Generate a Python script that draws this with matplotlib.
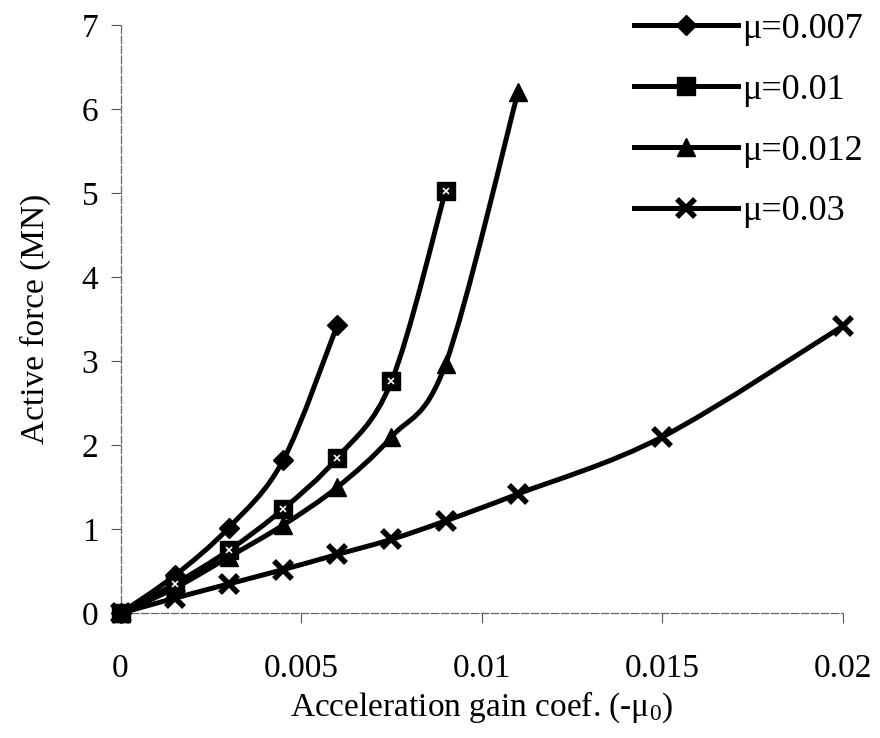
import numpy as np
import matplotlib
matplotlib.use('Agg')
import matplotlib.pyplot as plt
from matplotlib.path import Path
from matplotlib.patches import PathPatch
from matplotlib.lines import Line2D

plt.rcParams['font.family'] = ['Liberation Serif', 'DejaVu Serif']
plt.rcParams['mathtext.fontset'] = 'custom'
plt.rcParams['mathtext.rm'] = 'Liberation Serif'
plt.rcParams['mathtext.it'] = 'Liberation Serif:italic'

# values
gain_007 = [0, 0.0015, 0.003, 0.0045, 0.006]
force_007 = [0, 0.45, 1.02, 1.82, 3.43]

gain_01 = [0, 0.0015, 0.003, 0.0045, 0.006, 0.0075, 0.009]
force_01 = [0, 0.35, 0.75, 1.24, 1.85, 2.76, 5.03]

gain_012 = [0, 0.0015, 0.003, 0.0045, 0.006, 0.0075, 0.009, 0.011]
force_012 = [0, 0.3, 0.67, 1.05, 1.5, 2.1, 2.97, 6.2]

gain_03 = [0, 0.0015, 0.003, 0.0045, 0.006, 0.0075, 0.009, 0.011, 0.015, 0.02]
force_03 = [0, 0.18, 0.35, 0.52, 0.7, 0.88, 1.1, 1.42, 2.1, 3.42]

labels = ['μ=0.007', 'μ=0.01', 'μ=0.012', 'μ=0.03']
markers = ['D', 's', '^', 'x']
xticks = [0, 0.005, 0.01, 0.015, 0.02]
xticklabels = ['0', '0.005', '0.01', '0.015', '0.02']


def smooth_path(xs, ys):
    # catmull-rom style bezier through the points, like a spreadsheet smoothed line
    pts = np.column_stack([xs, ys]).astype(float)
    n = len(pts)
    verts = [pts[0]]
    codes = [Path.MOVETO]
    for i in range(n - 1):
        p0 = pts[i - 1] if i > 0 else pts[i]
        p1 = pts[i]
        p2 = pts[i + 1]
        p3 = pts[i + 2] if i + 2 < n else pts[i + 1]
        c1 = p1 + (p2 - p0) / 6.0
        c2 = p2 - (p3 - p1) / 6.0
        verts += [c1, c2, p2]
        codes += [Path.CURVE4] * 3
    return Path(verts, codes)


fig = plt.figure(figsize=(8.8, 7.38), dpi=100)
ax = fig.add_axes([0.137, 0.169, 0.821, 0.797])

series = [(gain_007, force_007), (gain_01, force_01), (gain_012, force_012), (gain_03, force_03)]
lw = 3.6
handles = []
for (xs, ys), m, lab in zip(series, markers, labels):
    patch = PathPatch(smooth_path(xs, ys), facecolor='none', edgecolor='black',
                      lw=lw, capstyle='round', joinstyle='round', clip_on=False, zorder=3)
    ax.add_patch(patch)
    if m == 'x':
        kw = dict(ms=13, mew=4)
    elif m == 'D':
        kw = dict(ms=10)
    else:
        kw = dict(ms=13)
    ax.plot(xs, ys, ls='none', marker=m, color='black', clip_on=False, zorder=4, **kw)
    if m == 's':
        ax.plot(xs[1:], ys[1:], ls='none', marker='x', ms=4, mew=1.2, color='white', zorder=5)
    handles.append(Line2D([], [], color='black', lw=lw, marker=m, label=lab, **kw))

ax.set_xlim(0, 0.02)
ax.set_ylim(0, 7)
ax.set_xticks(xticks)
ax.set_xticklabels(xticklabels)
ax.set_yticks(range(0, 8))

for s in ['top', 'right']:
    ax.spines[s].set_visible(False)
for s in ['left', 'bottom']:
    ax.spines[s].set_color('#666666')
    ax.spines[s].set_linewidth(0.9)
    ax.spines[s].set_linestyle((0, (6, 2)))

ax.tick_params(axis='x', direction='out', length=7, width=0.8, color='#555555',
               labelsize=24, pad=22)
ax.tick_params(axis='y', direction='out', length=7, width=0.8, color='#555555',
               labelsize=24, pad=9)

ax.set_xlabel('Acceleration gain coef. (-μ$_0$)', fontsize=24, labelpad=4)
ax.set_ylabel('Active force (MN)', fontsize=24, labelpad=22)

fig.legend(handles=handles, loc='upper right', bbox_to_anchor=(1.005, 1.012),
           frameon=False, fontsize=26, handlelength=2.9, handletextpad=0.1,
           labelspacing=0.76, borderaxespad=0.2)

fig.savefig('out.png', dpi=100, facecolor='white')
